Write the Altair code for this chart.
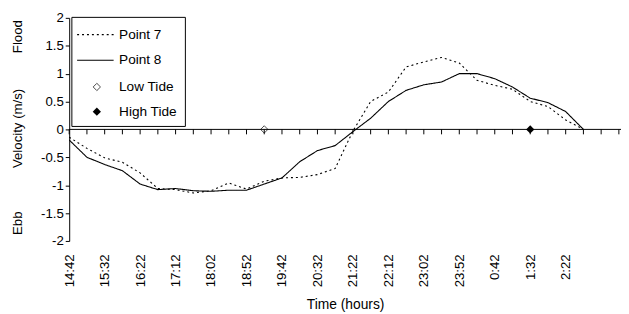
import altair as alt
import pandas as pd

# Category labels (every 25 minutes)
times = ["14:42", "15:07", "15:32", "15:57", "16:22", "16:47", "17:12", "17:37",
         "18:02", "18:27", "18:52", "19:17", "19:42", "20:07", "20:32", "20:57",
         "21:22", "21:47", "22:12", "22:37", "23:02", "23:27", "23:52", "0:17",
         "0:42", "1:07", "1:32", "1:57", "2:22", "2:47", "3:12", "3:37"]

point7 = [-0.14, -0.34, -0.51, -0.59, -0.78, -1.06, -1.08, -1.14, -1.10, -0.96,
          -1.07, -0.93, -0.87, -0.86, -0.81, -0.70, -0.03, 0.50, 0.67, 1.12,
          1.21, 1.29, 1.19, 0.88, 0.79, 0.72, 0.50, 0.41, 0.17, 0.00]
point8 = [-0.19, -0.50, -0.63, -0.74, -0.98, -1.08, -1.06, -1.10, -1.11, -1.09,
          -1.09, -0.98, -0.87, -0.58, -0.38, -0.29, -0.04, 0.20, 0.50, 0.70,
          0.80, 0.85, 1.00, 1.00, 0.91, 0.76, 0.56, 0.48, 0.32, 0.00]

low_tide = ["19:17"]
high_tide = ["1:32"]
tide_value = [0.0]

series_names = ["Point 7", "Point 8"]
legend_labels = ["Point 7", "Point 8", "Low Tide", "High Tide"]
y_ticks = [-2, -1.5, -1, -0.5, 0, 0.5, 1, 1.5, 2]

FONT = "Liberation Sans"
FS = 13.4
W, H = 559, 226
XMAX = 31.12
TICK_LEN = 5 * 4.0 / H  # 5 px expressed in data units

rows = []
for name, vals in zip(series_names, [point7, point8]):
    for k, v in enumerate(vals):
        rows.append({"i": k, "t": times[k], "v": v, "series": name})
lines_df = pd.DataFrame(rows)

low_df = pd.DataFrame({"i": [times.index(t) for t in low_tide], "v": tide_value})
high_df = pd.DataFrame({"i": [times.index(t) for t in high_tide], "v": tide_value})
ticks_df = pd.DataFrame({"i": list(range(len(times)))})

label_expr = "[" + ",".join("'%s'" % t for t in times) + "][datum.value]"

xscale = alt.Scale(domain=[0, XMAX], nice=False, zero=False)
yscale = alt.Scale(domain=[-2, 2], nice=False, zero=False)

x_axis = alt.Axis(values=list(range(0, 29, 2)), labelExpr=label_expr, labelAngle=-90,
                  labelOverlap=False, labelFlush=False,
                  domain=False, ticks=False, grid=False, labelPadding=13,
                  labelFont=FONT, labelFontSize=FS, labelColor="black",
                  title="Time (hours)", titleFont=FONT, titleFontSize=14,
                  titleFontWeight="normal", titleColor="black", titlePadding=11)
y_axis = alt.Axis(values=y_ticks, labelExpr="toString(datum.value)", grid=False,
                  labelOverlap=False, labelFlush=False,
                  domainColor="black", tickColor="black", tickSize=4, labelPadding=2,
                  labelFont=FONT, labelFontSize=FS, labelColor="black", title=None)

xs = alt.X("i:Q", scale=xscale, axis=x_axis)
ys = alt.Y("v:Q", scale=yscale, axis=y_axis)

lines = alt.Chart(lines_df).mark_line(color="black", strokeWidth=1.1).encode(
    x=xs, y=ys,
    strokeDash=alt.StrokeDash("series:N", scale=alt.Scale(domain=series_names, range=[[2, 3], [1, 0]]), legend=None),
    detail="series:N",
)

one = alt.Data(values=[{}])

zero_line = alt.Chart(one).mark_rule(color="black", strokeWidth=1).encode(
    y=alt.Y(datum=0, scale=yscale, axis=y_axis), x=alt.value(0), x2=alt.value(W))

tick_marks = alt.Chart(ticks_df).mark_rule(color="black", strokeWidth=1).encode(
    x=xs, y=alt.Y(datum=0, scale=yscale, axis=y_axis), y2=alt.Y2(datum=-TICK_LEN))

low = alt.Chart(low_df).mark_point(shape="diamond", filled=False, color="black",
                                   size=55, strokeWidth=1).encode(x=xs, y=ys)
high = alt.Chart(high_df).mark_point(shape="diamond", filled=True, color="black",
                                     size=70, opacity=1).encode(x=xs, y=ys)

# Legend (manual, Excel style box)
leg_box = alt.Chart(one).mark_rect(fill="white", stroke="black", strokeWidth=1).encode(
    x=alt.value(2.7), x2=alt.value(117.7), y=alt.value(-0.5), y2=alt.value(110))
leg_y = [17, 43, 70, 95]
leg_l7 = alt.Chart(one).mark_rule(color="black", strokeWidth=1.1, strokeDash=[2, 3]).encode(
    x=alt.value(8), x2=alt.value(45), y=alt.value(leg_y[0]))
leg_l8 = alt.Chart(one).mark_rule(color="black", strokeWidth=1.1).encode(
    x=alt.value(8), x2=alt.value(45), y=alt.value(leg_y[1]))
leg_low = alt.Chart(one).mark_point(shape="diamond", filled=False, color="black", size=55, strokeWidth=1).encode(
    x=alt.value(28), y=alt.value(leg_y[2]))
leg_high = alt.Chart(one).mark_point(shape="diamond", filled=True, color="black", size=70, opacity=1).encode(
    x=alt.value(28), y=alt.value(leg_y[3]))
leg_texts = [
    alt.Chart(one).mark_text(text=lab, align="left", baseline="middle", font=FONT,
                             fontSize=FS + 0.4, color="black").encode(
        x=alt.value(50.5), y=alt.value(yy))
    for lab, yy in zip(legend_labels, leg_y)
]

# Y-axis titles
def ytitle(txt, yy):
    return alt.Chart(one).mark_text(text=txt, angle=270, align="center", baseline="middle",
                                    font=FONT, fontSize=FS, color="black").encode(
        x=alt.value(-52), y=alt.value(yy))

titles = [ytitle("Flood", 19), ytitle("Velocity (m/s)", 112), ytitle("Ebb", 208)]

chart = alt.layer(
    lines, zero_line, tick_marks, low, high,
    leg_box, leg_l7, leg_l8, leg_low, leg_high, *leg_texts, *titles
).properties(
    width=W, height=H,
    background="white",
    autosize=alt.AutoSizeParams(type="none"),
    padding={"left": 62, "top": 8, "right": 0, "bottom": 71},
).configure_view(stroke=None)

chart.save("out.html", embed_options={"renderer": "svg", "actions": False})
